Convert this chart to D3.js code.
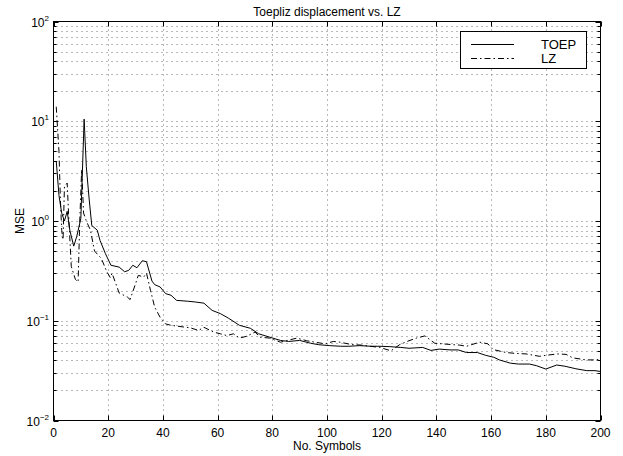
<!DOCTYPE html>
<html><head><meta charset="utf-8">
<script src="https://cdn.jsdelivr.net/npm/d3@7"></script>
<style>body{margin:0;background:#fff} text{font-family:"Liberation Sans",Arial,Helvetica,sans-serif;fill:#000}</style>
</head><body><svg id="c" width="623" height="456"></svg>
<script>
const chartTitle = "Toepliz displacement vs. LZ";
const xLabel = "No. Symbols";
const yLabel = "MSE";
const seriesNames = ["TOEP", "LZ"];
const xTicks = [0,20,40,60,80,100,120,140,160,180,200];
const yExponents = [-2,-1,0,1,2];

const toepX = [1,2,3,4,5,6,7.4,8.5,10,11.2,12,13,14,16,17,19,21,24,26,27.5,29,30.5,32.5,34,36,37,39,41,43,45,49,52,55,58,61,64,68,72,75,79,83,86,90,94,97,101,105,108,112,116,119,123,127,130,135,138,141,145,148,151,155,158,161,163,167,170,174,176.5,180,184,187,191,195,198,200];
const toepY = [4.0,1.8,1.2,1.0,1.25,0.8,0.56,0.7,1.06,10.5,3.5,1.7,0.9,0.81,0.64,0.47,0.36,0.345,0.31,0.32,0.36,0.34,0.40,0.39,0.25,0.23,0.218,0.187,0.18,0.16,0.157,0.154,0.15,0.127,0.118,0.106,0.09,0.084,0.074,0.0685,0.0635,0.062,0.0635,0.0595,0.0575,0.0563,0.0555,0.0555,0.0563,0.0555,0.0555,0.055,0.054,0.053,0.054,0.0504,0.052,0.051,0.051,0.048,0.048,0.045,0.043,0.0405,0.0376,0.0368,0.0368,0.0355,0.0328,0.036,0.035,0.033,0.0316,0.0316,0.031];

const lzX = [1,2,2.5,3,3.5,4,5,5.5,6.5,8,9,9.6,10.3,11,12,13.5,15,17.5,19.5,20.8,21.4,24,27,28,30,31,33,34,35.5,37,39,41,43,47,50,53,55,58.5,61,63.4,65.8,68,70.7,73.7,75.5,79,83,85,89,92.6,95.6,99.3,102.3,104.7,109,112.6,115.7,119.3,123.4,126.6,129.6,132.7,135.8,139.4,141.2,145.5,148.5,151,155.8,158.8,160.7,165.5,169.2,172.8,177.7,180,184.4,187.4,189.8,194.7,197.8,200];
const lzY = [14,5,1.7,0.8,0.65,2.2,2.4,1.2,0.35,0.26,0.245,1.0,3.3,1.2,1.0,0.81,0.5,0.42,0.31,0.27,0.3,0.19,0.173,0.163,0.235,0.285,0.275,0.3,0.2,0.137,0.108,0.093,0.09,0.087,0.085,0.08,0.086,0.077,0.074,0.071,0.074,0.067,0.07,0.077,0.0685,0.067,0.061,0.063,0.067,0.063,0.061,0.0587,0.062,0.061,0.0577,0.057,0.0555,0.054,0.05,0.0577,0.0625,0.067,0.0705,0.0595,0.059,0.0577,0.057,0.0555,0.061,0.0587,0.0515,0.048,0.047,0.0465,0.044,0.045,0.0465,0.046,0.0425,0.0405,0.0405,0.041];

const svg = d3.select("#c");
const L = 53.5, R = 600.5, T = 21.5, B = 420.5;
const x = d3.scaleLinear().domain([0,200]).range([L,R]);
const y = d3.scaleLog().domain([1e-2,1e2]).range([B,T]);

svg.append("rect").attr("width",623).attr("height",456).attr("fill","#fff");

// grid
const minorVals = [];
for (let e=-2; e<2; e++) for (let m=1; m<10; m++) minorVals.push(m*Math.pow(10,e));
minorVals.push(100);
const grid = svg.append("g").attr("stroke","#000").attr("stroke-width",1).attr("stroke-dasharray","1,4").attr("opacity",0.55);
minorVals.forEach(v => {
  const yy = Math.round(y(v))+0.5;
  if (yy > T+1 && yy < B-1) grid.append("line").attr("x1",L+3).attr("x2",R).attr("y1",yy).attr("y2",yy);
});
xTicks.forEach(v => {
  const xx = Math.round(x(v))+0.5;
  if (xx > L+1 && xx < R-1) grid.append("line").attr("x1",xx).attr("x2",xx).attr("y1",T+3).attr("y2",B);
});

// clip
svg.append("clipPath").attr("id","clp").append("rect").attr("x",L).attr("y",T).attr("width",R-L).attr("height",B-T);

const line = d3.line().x(d=>x(d[0])).y(d=>y(d[1]));
const toep = toepX.map((v,i)=>[v,toepY[i]]);
const lz = lzX.map((v,i)=>[v,lzY[i]]);
const dg = svg.append("g").attr("clip-path","url(#clp)");
dg.append("path").datum(lz).attr("d",line).attr("fill","none").attr("stroke","#000").attr("stroke-width",1).attr("stroke-dasharray","6,3,1.5,3");
dg.append("path").datum(toep).attr("d",line).attr("fill","none").attr("stroke","#000").attr("stroke-width",1);

// box
svg.append("rect").attr("x",L).attr("y",T).attr("width",R-L).attr("height",B-T).attr("fill","none").attr("stroke","#000").attr("stroke-width",1);

// ticks
const tk = svg.append("g").attr("stroke","#000").attr("stroke-width",1);
xTicks.forEach(v => {
  const xx = Math.round(x(v))+0.5;
  tk.append("line").attr("x1",xx).attr("x2",xx).attr("y1",B).attr("y2",B-5);
  tk.append("line").attr("x1",xx).attr("x2",xx).attr("y1",T).attr("y2",T+5);
});
minorVals.forEach(v => {
  const yy = Math.round(y(v))+0.5;
  const major = Math.abs(Math.log10(v) - Math.round(Math.log10(v))) < 1e-9;
  const len = major ? 5 : 3;
  tk.append("line").attr("x1",L).attr("x2",L+len).attr("y1",yy).attr("y2",yy);
  tk.append("line").attr("x1",R).attr("x2",R-len).attr("y1",yy).attr("y2",yy);
});

// x tick labels
xTicks.forEach(v => {
  svg.append("text").attr("x",x(v)).attr("y",437).attr("text-anchor","middle").attr("font-size",12).text(v);
});
// y tick labels
yExponents.forEach(e => {
  const t = svg.append("text").attr("x",49).attr("y",y(Math.pow(10,e))+5).attr("text-anchor","end").attr("font-size",12);
  t.append("tspan").text("10");
  t.append("tspan").attr("dy",-6).attr("font-size",8).text(e<0 ? "\u2212"+Math.abs(e) : String(e));
});

// labels
svg.append("text").attr("x",(L+R)/2).attr("y",16).attr("text-anchor","middle").attr("font-size",12).text(chartTitle);
svg.append("text").attr("x",(L+R)/2).attr("y",450).attr("text-anchor","middle").attr("font-size",12).text(xLabel);
svg.append("text").attr("transform",`translate(24,${(T+B)/2}) rotate(-90)`).attr("text-anchor","middle").attr("font-size",12).text(yLabel);

// legend
const lg = svg.append("g");
lg.append("rect").attr("x",460.5).attr("y",31.5).attr("width",126).attr("height",37).attr("fill","#fff").attr("stroke","#000").attr("stroke-width",1);
lg.append("line").attr("x1",471).attr("x2",514).attr("y1",44.5).attr("y2",44.5).attr("stroke","#000").attr("stroke-width",1);
lg.append("line").attr("x1",471).attr("x2",514).attr("y1",58.5).attr("y2",58.5).attr("stroke","#000").attr("stroke-width",1).attr("stroke-dasharray","6,3,1.5,3");
lg.append("text").attr("x",541).attr("y",49).attr("font-size",13).text(seriesNames[0]);
lg.append("text").attr("x",541).attr("y",63).attr("font-size",13).text(seriesNames[1]);
</script></body></html>
